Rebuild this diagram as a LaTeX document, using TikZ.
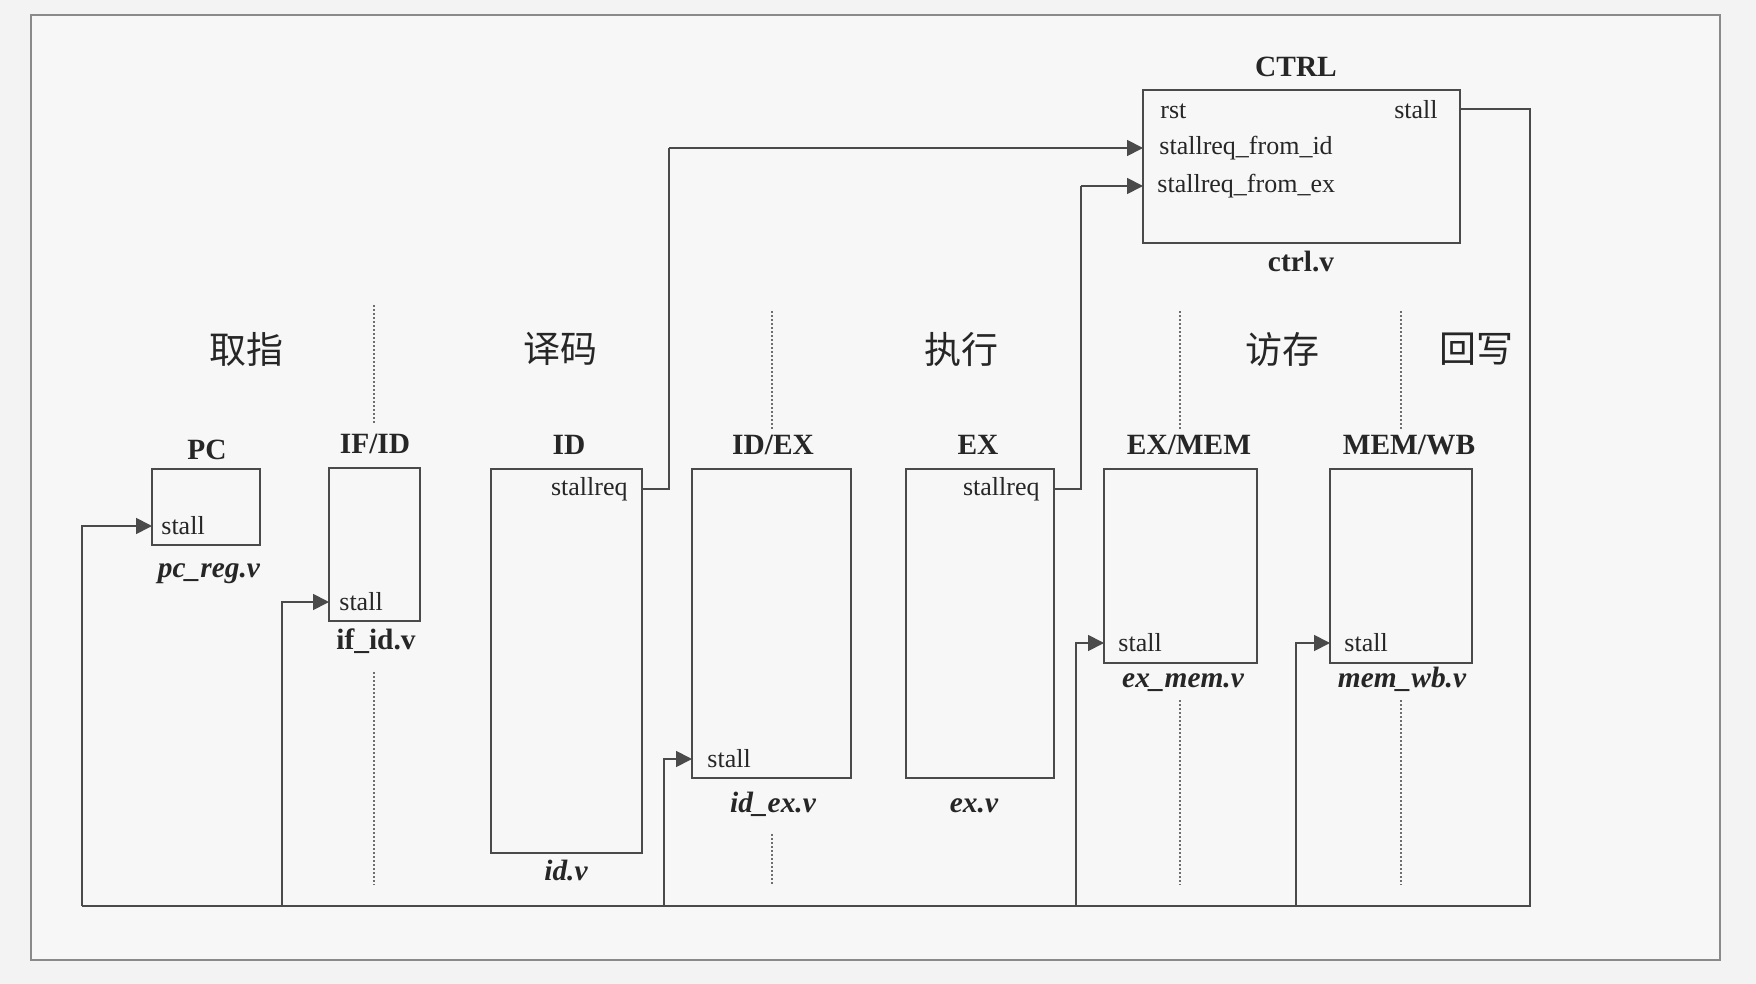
\documentclass[tikz,border=0pt]{standalone}
\usepackage{fontspec}
\setmainfont{Liberation Serif}
\newfontfamily\cjk{Noto Sans CJK SC}
\usetikzlibrary{arrows.meta}
\definecolor{paper}{HTML}{F3F3F3}
\definecolor{inner}{HTML}{F7F7F7}
\definecolor{ink}{HTML}{4A4A4A}
\definecolor{frame}{HTML}{8A8A8A}
\begin{document}
\begin{tikzpicture}[x=0.5pt,y=-0.5pt,
  blk/.style={draw=ink,line width=0.9pt,inner sep=0pt,fill=inner},
  wire/.style={draw=ink,line width=0.9pt},
  arr/.style={wire,-{Triangle[length=8pt,width=8pt]}},
  sep/.style={draw=ink!80,line width=0.7pt,dash pattern=on 1pt off 1pt},
  ttl/.style={font=\fontsize{14.7}{17}\selectfont\bfseries,text=black!85},
  fname/.style={font=\fontsize{14.7}{17}\selectfont\bfseries\itshape,text=black!85},
  fnameu/.style={font=\fontsize{14.7}{17}\selectfont\bfseries,text=black!85},
  port/.style={font=\fontsize{13}{15}\selectfont,text=black!85,inner sep=0pt},
  stage/.style={font=\cjk\fontsize{18.5}{20}\selectfont,text=black!85}]
\useasboundingbox (0,0) rectangle (1756,984);
\fill[paper] (0,0) rectangle (1756,984);
\draw[draw=frame,line width=0.8pt,fill=inner] (31,15) rectangle (1720,960);

% boxes
\node[blk,minimum width=317pt*0.5,minimum height=153pt*0.5] (ctrl) at (1301.5,166.5) {};
\node[blk,minimum width=108pt*0.5,minimum height=76pt*0.5] (pc) at (206,507) {};
\node[blk,minimum width=91pt*0.5,minimum height=153pt*0.5] (ifid) at (374.5,544.5) {};
\node[blk,minimum width=151pt*0.5,minimum height=384pt*0.5] (id) at (566.5,661) {};
\node[blk,minimum width=159pt*0.5,minimum height=309pt*0.5] (idex) at (771.5,623.5) {};
\node[blk,minimum width=148pt*0.5,minimum height=309pt*0.5] (ex) at (980,623.5) {};
\node[blk,minimum width=153pt*0.5,minimum height=194pt*0.5] (exmem) at (1180.5,566) {};
\node[blk,minimum width=142pt*0.5,minimum height=194pt*0.5] (memwb) at (1401,566) {};

% titles
\node[ttl] (tctrl) at (1296,67) {CTRL};
\node[fnameu] (fctrl) at (1301,262) {ctrl.v};
\node[ttl] (tpc) at (207,450) {PC};
\node[fname] (fpc) at (209,574) {pc\_reg.v};
\node[ttl] (tifid) at (375,444) {IF/ID};
\node[fnameu] (fifid) at (376,641) {if\_id.v};
\node[ttl] (tid) at (569,445) {ID};
\node[fname] (fid) at (566,871) {id.v};
\node[ttl] (tidex) at (773,445) {ID/EX};
\node[fname] (fidex) at (773,804) {id\_ex.v};
\node[ttl] (tex) at (978,445) {EX};
\node[fname] (fex) at (974,806) {ex.v};
\node[ttl] (texmem) at (1189,445) {EX/MEM};
\node[fname] (fexmem) at (1183,683) {ex\_mem.v};
\node[ttl] (tmemwb) at (1409,445) {MEM/WB};
\node[fname] (fmemwb) at (1402,679) {mem\_wb.v};

% stage names
\node[stage] (s1) at (246,349) {取指};
\node[stage] (s2) at (560,349) {译码};
\node[stage] (s3) at (961,349) {执行};
\node[stage] (s4) at (1282,349) {访存};
\node[stage] (s5) at (1476,349) {回写};

% ports
\node[port,anchor=west] (prst) at (1160,111) {rst};
\node[port,anchor=east] (pcs) at (1438,110) {stall};
\node[port,anchor=west] (pfid) at (1159,148) {stallreq\_from\_id};
\node[port,anchor=west] (pfex) at (1157,186) {stallreq\_from\_ex};
\node[port,anchor=west] (ppc) at (161,526) {stall};
\node[port,anchor=west] (pifid) at (339,602) {stall};
\node[port,anchor=east] (pidr) at (628,489) {stallreq};
\node[port,anchor=west] (pidex) at (707,759) {stall};
\node[port,anchor=east] (pexr) at (1040,489) {stallreq};
\node[port,anchor=west] (pexmem) at (1118,643) {stall};
\node[port,anchor=west] (pmemwb) at (1344,643) {stall};

% connection points
\coordinate (cstall) at (1460,109);
\coordinate (cfid) at (1143,148);
\coordinate (cfex) at (1143,186);
\coordinate (idreq) at (642,489);
\coordinate (exreq) at (1054,489);
\coordinate (idup) at (669,148);
\coordinate (exup) at (1081,186);
\coordinate (busR) at (1530,906);
\coordinate (busL) at (82,906);
\coordinate (fifid) at (282,906);
\coordinate (fidex) at (664,906);
\coordinate (fexmem) at (1076,906);
\coordinate (fmemwb) at (1296,906);
\coordinate (inpc) at (152,526);
\coordinate (inifid) at (329,602);
\coordinate (inidex) at (692,759);
\coordinate (inexmem) at (1104,643);
\coordinate (inmemwb) at (1330,643);

% stall requests to CTRL
\draw[wire] (idreq) -| (idup);
\draw[arr] (idup) -- (cfid);
\draw[wire] (exreq) -| (exup);
\draw[arr] (exup) -- (cfex);

% stall bus
\draw[wire] (cstall) -| (busR) -- (busL);
\draw[arr] (busL) |- (inpc);
\draw[arr] (fifid) |- (inifid);
\draw[arr] (fidex) |- (inidex);
\draw[arr] (fexmem) |- (inexmem);
\draw[arr] (fmemwb) |- (inmemwb);

% stage separators
\draw[sep] (374,305) -- (374,425);
\draw[sep] (374,672) -- (374,885);
\draw[sep] (772,311) -- (772,431);
\draw[sep] (772,834) -- (772,885);
\draw[sep] (1180,311) -- (1180,431);
\draw[sep] (1180,700) -- (1180,885);
\draw[sep] (1401,311) -- (1401,431);
\draw[sep] (1401,700) -- (1401,885);
\end{tikzpicture}
\end{document}
